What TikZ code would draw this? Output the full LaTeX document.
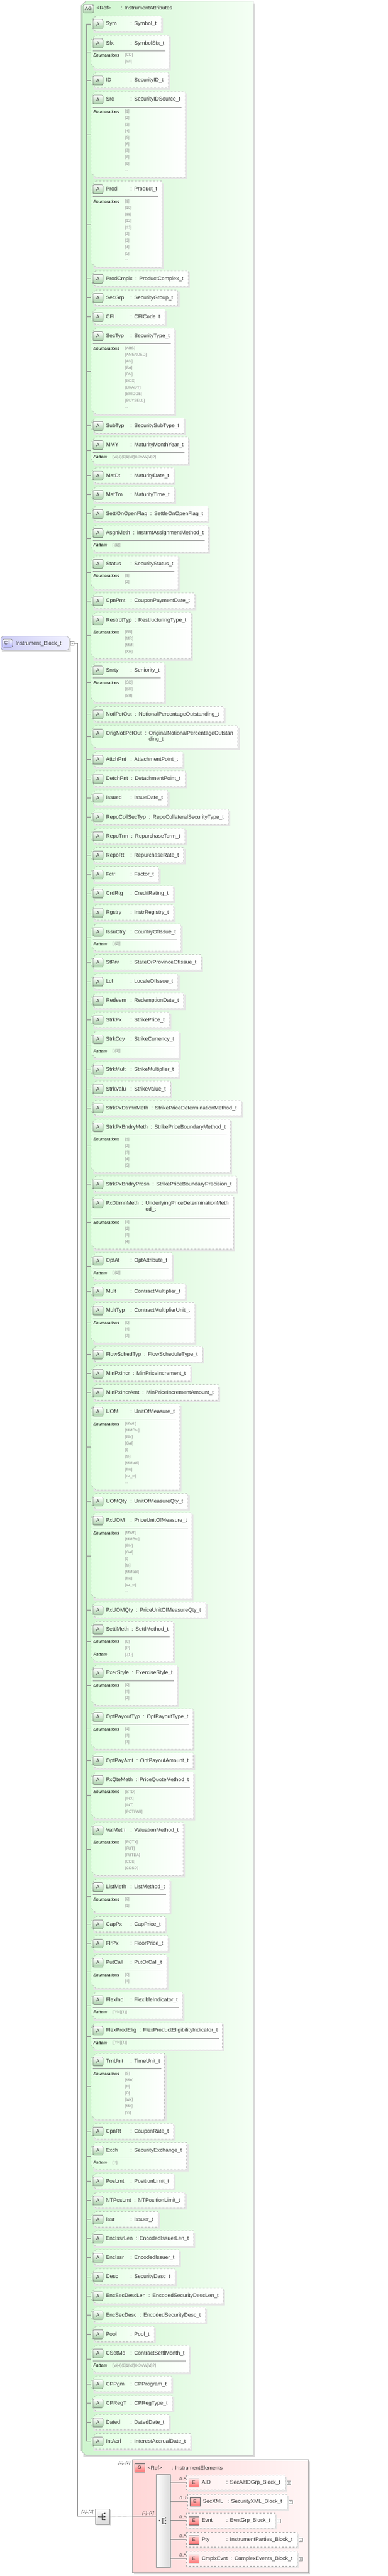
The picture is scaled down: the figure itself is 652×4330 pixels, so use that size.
\documentclass[tikz,border=0pt]{standalone}
\usepackage{fontspec}
\setmainfont{Liberation Sans}
\definecolor{txt}{HTML}{333333}
\definecolor{valc}{HTML}{8A8A8A}
\tikzset{
  attbox/.style={draw=black!35, dashed, left color=green!12, right color=white},
  shad/.style={fill=black!10},
  aicon/.style={draw=black!60, rounded corners=2pt, top color=white, bottom color=green!45!black!35, line width=0.5pt},
  hdrnode/.style={inner sep=0pt, text=txt, anchor=base west},
  lab/.style={inner sep=0pt, anchor=west, font=\fontsize{7}{8}\selectfont\itshape},
  val/.style={inner sep=0pt, anchor=west, text=valc, font=\fontsize{6.5}{8}\selectfont},
  sepline/.style={draw=black!40, line width=0.6pt},
  tree/.style={draw=black!45, line width=0.4pt},
  mult/.style={inner sep=0pt, font=\fontsize{7}{8}\selectfont\itshape, text=txt},
}
\newcommand\hdrfont{\fontsize{9}{11}\selectfont}
\newcommand\edots{...}
\newsavebox\hdrbox
\newcommand\hdrtx[2]{\setbox0\hbox{#1}\ifdim\wd0<37pt\hbox to 41pt{#1\hfill}\else\box0\hspace{5pt}\fi:\hspace{4pt}#2}
\newcommand\mkhdr[2]{\begin{pgfinterruptpicture}\global\setbox\hdrbox\hbox{\color{txt}\hdrfont\hdrtx{#1}{#2}}\end{pgfinterruptpicture}}
\newcommand\pmmy{[\textbackslash d\{4\}(0|1)\textbackslash d([0-3wW]\textbackslash d)?]}
\def\cury{27}
\def\lastmd{40}
% #1 rows, #2 extra header, #3 value x, #4 name, #5 type, #6 rows
\newcommand\att[6]{%
  \pgfmathsetmacro\hh{26+#2+(#1>0)*(8.5+11*#1)}%
  \mkhdr{#4}{#5}%
  \pgfmathsetmacro\rx{178+\the\wd\hdrbox+8}%
  \pgfmathsetmacro\tp{\cury}%
  \pgfmathsetmacro\bt{\cury+\hh}%
  \pgfmathsetmacro\md{\cury+\hh/2}%
  \fill[shad] (157,\tp+3) rectangle (\rx+3,\bt+3);
  \draw[attbox] (161,\tp) -- (\rx,\tp) -- (\rx,\bt) -- (161,\bt) -- (153,\bt-8) -- (153,\tp+8) -- cycle;
  \draw[aicon] (156,\tp+6) rectangle (173,\tp+21);
  \node[inner sep=0pt, font=\fontsize{8}{9}\selectfont, text=txt] at (164.5,\tp+13.5) {A};
  \node[hdrnode] at (178,\tp+16) {\usebox\hdrbox};
  \ifnum#1>0
    \draw[sepline] (156,\tp+26+#2) -- (\rx-6,\tp+26+#2);
    \foreach \lab/\val [count=\k] in {#6} {
      \node[lab] at (157,\tp+34+#2+11*\k-11) {\lab};
      \node[val] at (#3,\tp+34+#2+11*\k-11) {\val};
    }
  \fi
  \draw[tree] (145,\md) -- (153,\md);
  \xdef\lastmd{\md}%
  \pgfmathsetmacro\ny{\bt+6.15}\xdef\cury{\ny}%
}
\newcommand\elem[5]{% #1 center y, #2 left x, #3 name, #4 type, #5 mult
  \mkhdr{#3}{#4}%
  \pgfmathsetmacro\rx{#2+26+\the\wd\hdrbox+8}%
  \fill[shad] (#2+3,#1-9) rectangle (\rx+3,#1+16);
  \draw[draw=black!35, dashed, left color=red!6, right color=white] (#2,#1-12) rectangle (\rx,#1+13);
  \draw[draw=black!60, top color=red!15, bottom color=red!55, line width=0.5pt] (#2+4,#1-6) rectangle (#2+21,#1+8);
  \node[inner sep=0pt, font=\fontsize{8}{9}\selectfont, text=txt] at (#2+12.5,#1+1) {E};
  \node[hdrnode] at (#2+26,#1+3) {\usebox\hdrbox};
  \draw[black!40, fill=white] (\rx+3,#1-2) rectangle (\rx+9,#1+4);
  \draw[black!40, line width=0.3pt] (\rx+4.5,#1+1) -- (\rx+7.5,#1+1) (\rx+6,#1-0.5) -- (\rx+6,#1+2.5);
  \draw[tree] (286,#1) -- (#2,#1);
  \node[mult, anchor=south east] at (#2-1,#1-2) {#5};
}
\newcommand\seqicon[2]{%
  \fill[black!70] (#1-6,#2) circle (1.4);
  \draw[black!70, line width=0.6pt] (#1-6,#2) -- (#1-1,#2) (#1-1,#2-5) -- (#1-1,#2+5)
     (#1-1,#2-5) -- (#1+4,#2-5) (#1-1,#2) -- (#1+4,#2) (#1-1,#2+5) -- (#1+4,#2+5);
  \fill[black!70] (#1+4,#2-5) circle (1.4) (#1+4,#2) circle (1.4) (#1+4,#2+5) circle (1.4);
}
\begin{document}
\begin{tikzpicture}[x=1pt,y=-1pt]
\useasboundingbox (0,0) rectangle (652,4330);
\fill[white] (0,0) rectangle (652,4330);
% green attribute group
\fill[black!15] (140,6) rectangle (429,4130);
\draw[black!35, left color={rgb,255:red,205;green,245;blue,205}, right color={rgb,255:red,245;green,255;blue,245}]
  (144,2) -- (426,2) -- (426,4127) -- (144,4127) -- (136,4119) -- (136,10) -- cycle;
\fill[green!30!black!25] (136.3,10) rectangle (139,4119);
\draw[draw=black!60, rounded corners=2pt, top color=white, bottom color=green!45!black!35, line width=0.5pt] (140,8) rectangle (157,22);
\node[inner sep=0pt, font=\fontsize{8}{9}\selectfont, text=txt] (agicon) at (148.5,15) {AG};
\node[hdrnode, font=\hdrfont] (agref) at (162,17) {<Ref>};
\node[hdrnode, font=\hdrfont] (agtype) at (203,17) {: InstrumentAttributes};

\att{0}{0}{210}{Sym}{Symbol\_t}{}
\att{2}{0}{210}{Sfx}{SymbolSfx\_t}{Enumerations/[CD],/[WI]}
\att{0}{0}{210}{ID}{SecurityID\_t}{}
\att{10}{0}{210}{Src}{SecurityIDSource\_t}{Enumerations/[1],/[2],/[3],/[4],/[5],/[6],/[7],/[8],/[9],/\edots}
\att{10}{0}{210}{Prod}{Product\_t}{Enumerations/[1],/[10],/[11],/[12],/[13],/[2],/[3],/[4],/[5],/\edots}
\att{0}{0}{210}{ProdCmplx}{ProductComplex\_t}{}
\att{0}{0}{210}{SecGrp}{SecurityGroup\_t}{}
\att{0}{0}{210}{CFI}{CFICode\_t}{}
\att{10}{0}{210}{SecTyp}{SecurityType\_t}{Enumerations/[ABS],/[AMENDED],/[AN],/[BA],/[BN],/[BOX],/[BRADY],/[BRIDGE],/[BUYSELL],/\edots}
\att{0}{0}{210}{SubTyp}{SecuritySubType\_t}{}
\att{1}{0}{189}{MMY}{MaturityMonthYear\_t}{Pattern/\pmmy}
\att{0}{0}{210}{MatDt}{MaturityDate\_t}{}
\att{0}{0}{210}{MatTm}{MaturityTime\_t}{}
\att{0}{0}{210}{SettlOnOpenFlag}{SettleOnOpenFlag\_t}{}
\att{1}{0}{189}{AsgnMeth}{InstrmtAssignmentMethod\_t}{Pattern/[.\{1\}]}
\att{2}{0}{210}{Status}{SecurityStatus\_t}{Enumerations/[1],/[2]}
\att{0}{0}{210}{CpnPmt}{CouponPaymentDate\_t}{}
\att{4}{0}{210}{RestrctTyp}{RestructuringType\_t}{Enumerations/[FR],/[MR],/[MM],/[XR]}
\att{3}{0}{210}{Snrty}{Seniority\_t}{Enumerations/[SD],/[SR],/[SB]}
\att{0}{0}{210}{NotlPctOut}{NotionalPercentageOutstanding\_t}{}
\att{0}{12}{210}{OrigNotlPctOut}{\begin{tabular}[t]{@{}l@{}}OriginalNotionalPercentageOutstan\\[-1pt]ding\_t\end{tabular}}{}
\att{0}{0}{210}{AttchPnt}{AttachmentPoint\_t}{}
\att{0}{0}{210}{DetchPnt}{DetachmentPoint\_t}{}
\att{0}{0}{210}{Issued}{IssueDate\_t}{}
\att{0}{0}{210}{RepoCollSecTyp}{RepoCollateralSecurityType\_t}{}
\att{0}{0}{210}{RepoTrm}{RepurchaseTerm\_t}{}
\att{0}{0}{210}{RepoRt}{RepurchaseRate\_t}{}
\att{0}{0}{210}{Fctr}{Factor\_t}{}
\att{0}{0}{210}{CrdRtg}{CreditRating\_t}{}
\att{0}{0}{210}{Rgstry}{InstrRegistry\_t}{}
\att{1}{0}{189}{IssuCtry}{CountryOfIssue\_t}{Pattern/[.\{2\}]}
\att{0}{0}{210}{StPrv}{StateOrProvinceOfIssue\_t}{}
\att{0}{0}{210}{Lcl}{LocaleOfIssue\_t}{}
\att{0}{0}{210}{Redeem}{RedemptionDate\_t}{}
\att{0}{0}{210}{StrkPx}{StrikePrice\_t}{}
\att{1}{0}{189}{StrkCcy}{StrikeCurrency\_t}{Pattern/[.\{3\}]}
\att{0}{0}{210}{StrkMult}{StrikeMultiplier\_t}{}
\att{0}{0}{210}{StrkValu}{StrikeValue\_t}{}
\att{0}{0}{210}{StrkPxDtrmnMeth}{StrikePriceDeterminationMethod\_t}{}
\att{5}{0}{210}{StrkPxBndryMeth}{StrikePriceBoundaryMethod\_t}{Enumerations/[1],/[2],/[3],/[4],/[5]}
\att{0}{0}{210}{StrkPxBndryPrcsn}{StrikePriceBoundaryPrecision\_t}{}
\att{4}{12}{210}{PxDtrmnMeth}{\begin{tabular}[t]{@{}l@{}}UnderlyingPriceDeterminationMeth\\[-1pt]od\_t\end{tabular}}{Enumerations/[1],/[2],/[3],/[4]}
\att{1}{0}{189}{OptAt}{OptAttribute\_t}{Pattern/[.\{1\}]}
\att{0}{0}{210}{Mult}{ContractMultiplier\_t}{}
\att{3}{0}{210}{MultTyp}{ContractMultiplierUnit\_t}{Enumerations/[0],/[1],/[2]}
\att{0}{0}{210}{FlowSchedTyp}{FlowScheduleType\_t}{}
\att{0}{0}{210}{MinPxIncr}{MinPriceIncrement\_t}{}
\att{0}{0}{210}{MinPxIncrAmt}{MinPriceIncrementAmount\_t}{}
\att{10}{0}{210}{UOM}{UnitOfMeasure\_t}{Enumerations/[MWh],/[MMBtu],/[Bbl],/[Gal],/[t],/[tn],/[MMbbl],/[lbs],/[oz\_tr],/\edots}
\att{0}{0}{210}{UOMQty}{UnitOfMeasureQty\_t}{}
\att{10}{0}{210}{PxUOM}{PriceUnitOfMeasure\_t}{Enumerations/[MWh],/[MMBtu],/[Bbl],/[Gal],/[t],/[tn],/[MMbbl],/[lbs],/[oz\_tr],/\edots}
\att{0}{0}{210}{PxUOMQty}{PriceUnitOfMeasureQty\_t}{}
\att{3}{0}{210}{SettlMeth}{SettlMethod\_t}{Enumerations/[C],/[P],Pattern/[.\{1\}]}
\att{3}{0}{210}{ExerStyle}{ExerciseStyle\_t}{Enumerations/[0],/[1],/[2]}
\att{3}{0}{210}{OptPayoutTyp}{OptPayoutType\_t}{Enumerations/[1],/[2],/[3]}
\att{0}{0}{210}{OptPayAmt}{OptPayoutAmount\_t}{}
\att{4}{0}{210}{PxQteMeth}{PriceQuoteMethod\_t}{Enumerations/[STD],/[INX],/[INT],/[PCTPAR]}
\att{5}{0}{210}{ValMeth}{ValuationMethod\_t}{Enumerations/[EQTY],/[FUT],/[FUTDA],/[CDS],/[CDSD]}
\att{2}{0}{210}{ListMeth}{ListMethod\_t}{Enumerations/[0],/[1]}
\att{0}{0}{210}{CapPx}{CapPrice\_t}{}
\att{0}{0}{210}{FlrPx}{FloorPrice\_t}{}
\att{2}{0}{210}{PutCall}{PutOrCall\_t}{Enumerations/[0],/[1]}
\att{1}{0}{189}{FlexInd}{FlexibleIndicator\_t}{Pattern/{[[YN]\{1\}]}}
\att{1}{0}{189}{FlexProdElig}{FlexProductEligibilityIndicator\_t}{Pattern/{[[YN]\{1\}]}}
\att{7}{0}{210}{TmUnit}{TimeUnit\_t}{Enumerations/[S],/[Min],/[H],/[D],/[Wk],/[Mo],/[Yr]}
\att{0}{0}{210}{CpnRt}{CouponRate\_t}{}
\att{1}{0}{189}{Exch}{SecurityExchange\_t}{Pattern/[.*]}
\att{0}{0}{210}{PosLmt}{PositionLimit\_t}{}
\att{0}{0}{210}{NTPosLmt}{NTPositionLimit\_t}{}
\att{0}{0}{210}{Issr}{Issuer\_t}{}
\att{0}{0}{210}{EncIssrLen}{EncodedIssuerLen\_t}{}
\att{0}{0}{210}{EncIssr}{EncodedIssuer\_t}{}
\att{0}{0}{210}{Desc}{SecurityDesc\_t}{}
\att{0}{0}{210}{EncSecDescLen}{EncodedSecurityDescLen\_t}{}
\att{0}{0}{210}{EncSecDesc}{EncodedSecurityDesc\_t}{}
\att{0}{0}{210}{Pool}{Pool\_t}{}
\att{1}{0}{189}{CSetMo}{ContractSettlMonth\_t}{Pattern/\pmmy}
\att{0}{0}{210}{CPPgm}{CPProgram\_t}{}
\att{0}{0}{210}{CPRegT}{CPRegType\_t}{}
\att{0}{0}{210}{Dated}{DatedDate\_t}{}
\att{0}{0}{210}{IntAcrl}{InterestAccrualDate\_t}{}
\draw[tree] (145,40) -- (145,\lastmd);

% complex type node
\fill[black!12] (3,1072) rectangle (119,1096);
\node[draw=black!40, rounded corners=6pt, left color={rgb,255:red,205;green,205;blue,245}, right color={rgb,255:red,240;green,240;blue,255},
  minimum width=115pt, minimum height=24pt, inner sep=0pt, anchor=north west] (ct) at (1,1069) {};
\draw[draw=black!60, rounded corners=3pt, top color=white, bottom color=blue!30, line width=0.5pt] (4,1074) rectangle (21,1088);
\node[inner sep=0pt, font=\fontsize{8}{9}\selectfont, text=txt] (cticon) at (12.5,1081) {CT};
\node[hdrnode, font=\hdrfont] (ctname) at (26,1084) {Instrument\_Block\_t};
\draw[black!40, fill=white] (118,1078) rectangle (124,1084);
\draw[black!50, line width=0.3pt] (119.5,1081) -- (122.5,1081);
\coordinate (c1) at (130,1081);
\coordinate (c2) at (130,4229);
\draw[tree] (124,1081) -- (c1) -- (c2) -- (160,4229);
\node[mult, anchor=south west] (m1) at (137,4226) {[1]..[1]};

% outer sequence icon
\fill[black!15] (162,4219) rectangle (186,4245);
\node[draw=black!40, top color=white, bottom color=black!15, minimum width=24pt, minimum height=26pt, inner sep=0pt] (seq1) at (172,4230) {};
\seqicon{172}{4230}
\draw[tree] (seq1.east) -- (222,4229);

% red group
\fill[black!15] (225,4137) rectangle (521,4327);
\draw[black!35, left color={rgb,255:red,255;green,215;blue,215}, right color={rgb,255:red,255;green,245;blue,245}] (222,4134) rectangle (518,4324);
\node[mult, anchor=south east] (m2) at (219,4144) {[1]..[1]};
\draw[draw=black!60, top color=red!15, bottom color=red!55, line width=0.5pt] (226,4141) rectangle (243,4155);
\node[inner sep=0pt, font=\fontsize{8}{9}\selectfont, text=txt] (gicon) at (234.5,4148) {G};
\node[hdrnode, font=\hdrfont] (gref) at (248,4151) {<Ref>};
\node[hdrnode, font=\hdrfont] (gtype) at (288,4151) {: InstrumentElements};
% inner sequence bar
\fill[black!15] (264,4161) rectangle (288,4317);
\node[draw=black!40, left color=white, right color=black!15, minimum width=24pt, minimum height=156pt, inner sep=0pt, anchor=north west] (bar) at (262,4159) {};
\seqicon{274}{4237}
\draw[tree] (222,4229) -- (262,4229);
\node[mult, anchor=south east] (m3) at (259,4228) {[1]..[1]};
\elem{4172}{313}{AID}{SecAltIDGrp\_Block\_t}{0..*}
\elem{4204}{315}{SecXML}{SecurityXML\_Block\_t}{0..1}
\elem{4236}{313}{Evnt}{EvntGrp\_Block\_t}{0..*}
\elem{4268}{313}{Pty}{InstrumentParties\_Block\_t}{0..*}
\elem{4300}{313}{CmplxEvnt}{ComplexEvents\_Block\_t}{0..*}
\end{tikzpicture}
\end{document}
